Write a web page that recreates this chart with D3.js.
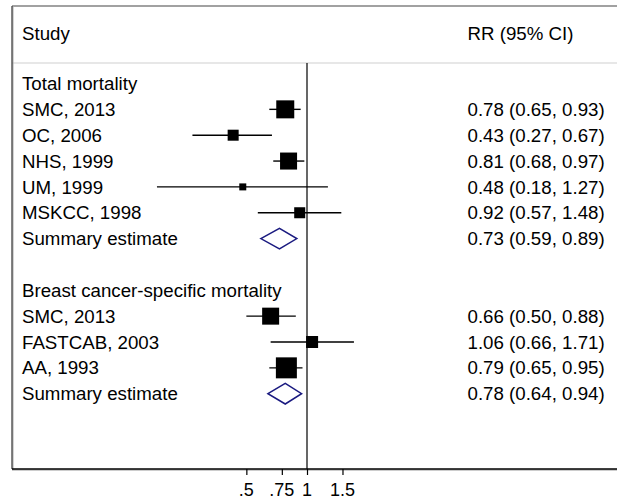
<!DOCTYPE html>
<html><head><meta charset="utf-8">
<script src="https://cdn.jsdelivr.net/npm/d3@7"></script>
<style>html,body{margin:0;padding:0;background:#fff;}svg{display:block;}</style>
</head><body>
<svg id="c" width="617" height="500"></svg>
<script>
// ---- data ----
const rowLabels = ["Total mortality","SMC, 2013","OC, 2006","NHS, 1999","UM, 1999","MSKCC, 1998","Summary estimate","","Breast cancer-specific mortality","SMC, 2013","FASTCAB, 2003","AA, 1993","Summary estimate"];
const rowType   = ["head","study","study","study","study","study","summary","blank","head","study","study","study","summary"];
const rr        = [null,0.78,0.43,0.81,0.48,0.92,0.73,null,null,0.66,1.06,0.79,0.78];
const lo        = [null,0.65,0.27,0.68,0.18,0.57,0.59,null,null,0.50,0.66,0.65,0.64];
const hi        = [null,0.93,0.67,0.97,1.27,1.48,0.89,null,null,0.88,1.71,0.95,0.94];
const weights   = [null,35.8,13.4,32.0,5.4,13.4,null,null,null,31.9,15.9,48.7,null];
const tickValues = [0.5,0.75,1,1.5];
const tickLabels = [".5",".75","1","1.5"];
const headers = ["Study","RR (95% CI)"];

const svg = d3.select("#c");
const W = 617, H = 500;
const font = "'Liberation Sans', Arial, Helvetica, sans-serif";
const fs = 18.7;

const x = d3.scaleLog().domain([0.5,1.5]).range([246.35,342.48]);
const y = d3.scaleLinear().domain([0,12]).range([83.5,393.7]);
const side = d3.scaleSqrt().domain([0,50]).range([0,21.27]);

const left = 12, topY = 6, sepY = 63, axisY = 469;

// frame
svg.append("line").attr("x1",left).attr("x2",W).attr("y1",topY).attr("y2",topY)
  .attr("stroke","#444").attr("stroke-width",1.2);
svg.append("line").attr("x1",left).attr("x2",W).attr("y1",sepY).attr("y2",sepY)
  .attr("stroke","#cfcfcf").attr("stroke-width",1.2);
svg.append("line").attr("x1",left+1).attr("x2",left+1).attr("y1",topY).attr("y2",axisY+1)
  .attr("stroke","#aaa").attr("stroke-width",1);
svg.append("line").attr("x1",left).attr("x2",left).attr("y1",topY).attr("y2",axisY)
  .attr("stroke","#333").attr("stroke-width",1.2);

// null line at 1
svg.append("line").attr("x1",x(1)).attr("x2",x(1)).attr("y1",sepY).attr("y2",axisY)
  .attr("stroke","#000").attr("stroke-width",1.2);

// headers
svg.append("text").attr("x",22).attr("y",39.5).text(headers[0])
  .attr("font-family",font).attr("font-size",fs).attr("fill","#000");
svg.append("text").attr("x",467.5).attr("y",39.5).text(headers[1])
  .attr("font-family",font).attr("font-size",fs).attr("fill","#000");

const rows = rowLabels.map((l,i)=>({i,label:l,type:rowType[i],rr:rr[i],lo:lo[i],hi:hi[i],w:weights[i]}));

// labels
svg.selectAll("text.lab").data(rows.filter(d=>d.label)).enter().append("text")
  .attr("class","lab").attr("x",22).attr("y",d=>y(d.i)+6.6)
  .attr("font-family",font).attr("font-size",fs).attr("fill","#000").text(d=>d.label);

// values text
const f2 = d3.format(".2f");
svg.selectAll("text.val").data(rows.filter(d=>d.rr!=null)).enter().append("text")
  .attr("class","val").attr("x",467.5).attr("y",d=>y(d.i)+6.6)
  .attr("font-family",font).attr("font-size",fs).attr("fill","#000")
  .text(d=>`${f2(d.rr)} (${f2(d.lo)}, ${f2(d.hi)})`);

// CI lines
const studies = rows.filter(d=>d.type==="study");
svg.selectAll("line.ci").data(studies).enter().append("line")
  .attr("x1",d=>x(d.lo)).attr("x2",d=>x(d.hi)).attr("y1",d=>y(d.i)).attr("y2",d=>y(d.i))
  .attr("stroke","#000").attr("stroke-width",1.4);
// squares
svg.selectAll("rect.sq").data(studies).enter().append("rect")
  .attr("x",d=>x(d.rr)-side(d.w)/2).attr("y",d=>y(d.i)-side(d.w)/2)
  .attr("width",d=>side(d.w)).attr("height",d=>side(d.w)).attr("fill","#000");

// diamonds
const sums = rows.filter(d=>d.type==="summary");
svg.selectAll("path.dia").data(sums).enter().append("path")
  .attr("d",d=>{const c=y(d.i), h=10.3; return `M${x(d.lo)},${c}L${x(d.rr)},${c-h}L${x(d.hi)},${c}L${x(d.rr)},${c+h}Z`;})
  .attr("fill","none").attr("stroke","#1a1a80").attr("stroke-width",1.5);

// axis
svg.append("line").attr("x1",left).attr("x2",W).attr("y1",axisY+1).attr("y2",axisY+1)
  .attr("stroke","#999").attr("stroke-width",1);
const axis = d3.axisBottom(x).tickValues(tickValues).tickSize(6).tickFormat(() => "");
const g = svg.append("g").attr("transform",`translate(0,${axisY})`).call(axis);
g.select(".domain").remove();
g.selectAll(".tick text").remove();
g.append("line").attr("x1",left).attr("x2",W).attr("y1",0).attr("y2",0).attr("stroke","#000").attr("stroke-width",1.5);
g.selectAll(".tick line").attr("stroke","#000").attr("stroke-width",1.2);
svg.selectAll("text.tl").data(tickValues).enter().append("text")
  .attr("class","tl").attr("x",d=>x(d)).attr("y",495.5).attr("text-anchor","middle")
  .attr("font-family",font).attr("font-size",18).attr("fill","#000")
  .text((d,i)=>tickLabels[i]);
</script>
</body></html>
